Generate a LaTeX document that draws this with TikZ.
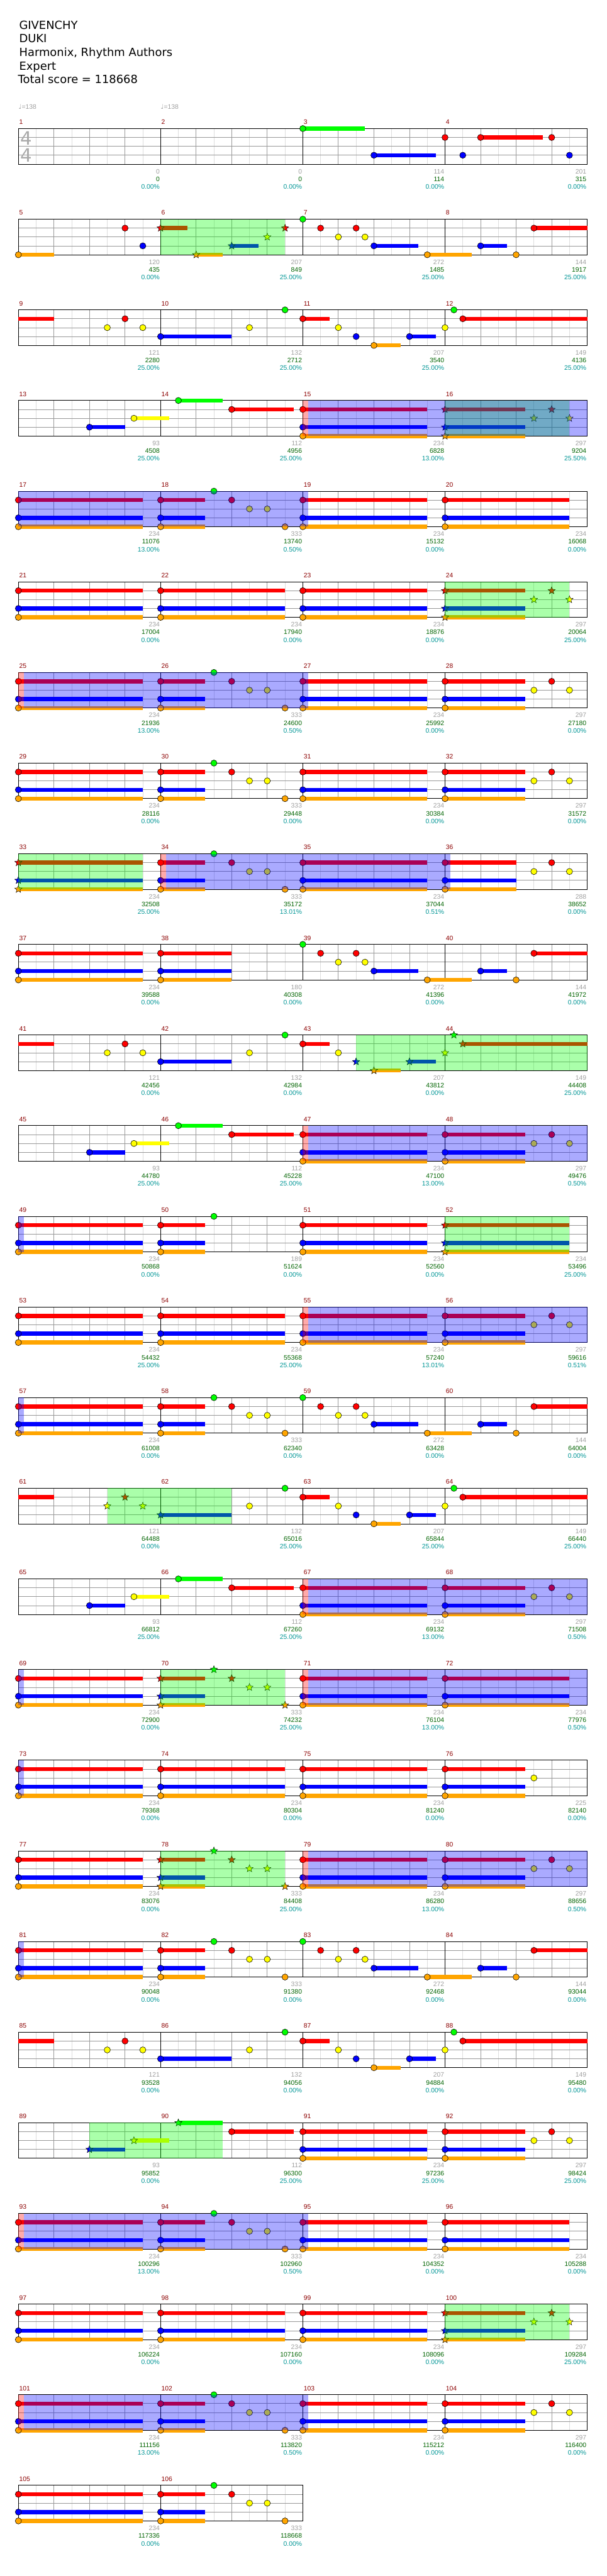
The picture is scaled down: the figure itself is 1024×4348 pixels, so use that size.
\documentclass[tikz,border=0pt]{standalone}
\usepackage{fontspec}
\setmainfont{Liberation Sans}
\newfontfamily\hdrfont{DejaVu Sans}
\usetikzlibrary{shapes.geometric}

\definecolor{lane0}{RGB}{0,255,0}
\definecolor{lane1}{RGB}{255,0,0}
\definecolor{lane2}{RGB}{255,255,0}
\definecolor{lane3}{RGB}{0,0,255}
\definecolor{lane4}{RGB}{255,165,0}
\definecolor{gridmid}{RGB}{153,153,153}
\definecolor{gridlight}{RGB}{221,221,221}
\definecolor{sigray}{RGB}{170,170,170}
\definecolor{numred}{RGB}{140,0,0}
\definecolor{notegray}{RGB}{160,160,160}
\definecolor{scoregreen}{RGB}{0,100,0}
\definecolor{pctcyan}{RGB}{0,150,150}

\tikzset{
  notehead/.style={circle, draw=black, line width=0.6pt, minimum size=10.5pt, inner sep=0pt},
  starhead/.style={star, star points=5, star point ratio=2.3, draw=black, line width=0.5pt, minimum size=13pt, inner sep=0pt},
  mnum/.style={anchor=base west, inner sep=0pt, text=numred, font=\fontsize{11}{11}\selectfont},
  lbl/.style={anchor=base east, inner sep=0pt, font=\fontsize{11}{11}\selectfont},
  hdr/.style={anchor=base west, inner sep=0pt, font=\hdrfont\fontsize{19}{23}\selectfont},
}

% lane/pos(16th)/length(16th)/kind (0 note, 1 star, 2 tail only)
\def\pF{1/0/14/0,3/0/14/0,4/0/14/0}
\def\pFs{1/0/14/1,3/0/14/1,4/0/14/1}
\def\pA{1/0/5/0,3/0/5/0,4/0/5/0,0/6/0/0,1/8/0/0,2/10/0/0,2/12/0/0,4/14/0/0}
\def\pAs{1/0/5/1,3/0/5/1,4/0/5/1,0/6/0/1,1/8/0/1,2/10/0/1,2/12/0/1,4/14/0/1}
\def\pC{1/0/9/0,3/0/9/0,4/0/9/0,2/10/0/0,1/12/0/0,2/14/0/0}
\def\pCs{1/0/9/1,3/0/9/1,4/0/9/1,2/10/0/1,1/12/0/1,2/14/0/1}
\def\pG{0/0/0/0,1/2/0/0,2/4/0/0,1/6/0/0,2/7/0/0,3/8/5/0,4/14/5/0}
\def\pH{3/4/3/0,4/8/0/0,1/10/6/0}
\def\pI{1/0/4/2,2/10/0/0,1/12/0/0,2/14/0/0}
\def\pJ{3/0/8/0,2/10/0/0,0/14/0/0}
\def\pK{1/0/3/0,2/4/0/0,3/6/0/0,4/8/3/0,3/12/3/0}
\def\pL{2/0/0/0,0/1/0/0,1/2/14/0}
\def\pM{3/8/4/0,2/13/4/0}
\def\pN{0/2/5/0,1/8/7/0}

\newcommand{\drawnotes}[2]{%
  \pgfmathtruncatemacro\nrow{int((#1-1)/4)}%
  \pgfmathtruncatemacro\ncol{mod(#1-1,4)}%
  \pgfmathsetmacro\mx{31+240*\ncol}%
  \pgfmathsetmacro\ty{217+153*\nrow}%
  \edef\nlist{#2}%
  \foreach \nl/\np/\ns/\nk in \nlist {%
    \pgfmathsetmacro\nx{\mx+15*\np}%
    \pgfmathsetmacro\ny{\ty+15*\nl}%
    \ifnum\ns>0 \fill[lane\nl] (\nx,\ny-3.4) rectangle ++(15*\ns,6.8);\fi
    \ifcase\nk\relax
      \node[notehead, fill=lane\nl] (h#1-\nl-\np) at (\nx,\ny) {};
    \or
      \node[starhead, fill=lane\nl] (h#1-\nl-\np) at (\nx,\ny) {};
    \fi
  }}
% row, x from, x to
\newcommand{\spzone}[3]{\fill[lane0, fill opacity=0.333] (#2,64+153*#1) rectangle (#3,124+153*#1);}
\newcommand{\odzone}[3]{\fill[lane3, fill opacity=0.333] (#2,64+153*#1) rectangle (#3,124+153*#1);}
\newcommand{\odpink}[3]{\fill[lane1, fill opacity=0.333] (#2,64+153*#1) rectangle (#3,124+153*#1);}

\begin{document}
\begin{tikzpicture}[x=1pt, y=-1pt, line width=0.9pt]
  \useasboundingbox (0,0) rectangle (1024,4348);
  \fill[white] (0,0) rectangle (1024,4348);

  \node[hdr] (title) at (32,49) {GIVENCHY};
  \node[hdr] (artist) at (32,72) {DUKI};
  \node[hdr] (charter) at (32,95) {Harmonix, Rhythm Authors};
  \node[hdr] (diff) at (32,118) {Expert};
  \node[hdr] (total) at (30,141) {Total score = 118668};
  \node[anchor=base west, inner sep=0pt, text=notegray, font=\fontsize{11}{11}\selectfont] (tempo1) at (31,184) {{\hdrfont ♩}=138};
  \node[anchor=base west, inner sep=0pt, text=notegray, font=\fontsize{11}{11}\selectfont] (tempo2) at (271,184) {{\hdrfont ♩}=138};

  % grid and scores
  \foreach \m/\gsc/\tsc/\pcv in {1/0/0/0.00,2/0/0/0.00,3/114/114/0.00,4/201/315/0.00,
    5/120/435/0.00,6/207/849/25.00,7/272/1485/25.00,8/144/1917/25.00,
    9/121/2280/25.00,10/132/2712/25.00,11/207/3540/25.00,12/149/4136/25.00,
    13/93/4508/25.00,14/112/4956/25.00,15/234/6828/13.00,16/297/9204/25.50,
    17/234/11076/13.00,18/333/13740/0.50,19/234/15132/0.00,20/234/16068/0.00,
    21/234/17004/0.00,22/234/17940/0.00,23/234/18876/0.00,24/297/20064/25.00,
    25/234/21936/13.00,26/333/24600/0.50,27/234/25992/0.00,28/297/27180/0.00,
    29/234/28116/0.00,30/333/29448/0.00,31/234/30384/0.00,32/297/31572/0.00,
    33/234/32508/25.00,34/333/35172/13.01,35/234/37044/0.51,36/288/38652/0.00,
    37/234/39588/0.00,38/180/40308/0.00,39/272/41396/0.00,40/144/41972/0.00,
    41/121/42456/0.00,42/132/42984/0.00,43/207/43812/0.00,44/149/44408/25.00,
    45/93/44780/25.00,46/112/45228/25.00,47/234/47100/13.00,48/297/49476/0.50,
    49/234/50868/0.00,50/189/51624/0.00,51/234/52560/0.00,52/234/53496/25.00,
    53/234/54432/25.00,54/234/55368/25.00,55/234/57240/13.01,56/297/59616/0.51,
    57/234/61008/0.00,58/333/62340/0.00,59/272/63428/0.00,60/144/64004/0.00,
    61/121/64488/0.00,62/132/65016/25.00,63/207/65844/25.00,64/149/66440/25.00,
    65/93/66812/25.00,66/112/67260/25.00,67/234/69132/13.00,68/297/71508/0.50,
    69/234/72900/0.00,70/333/74232/25.00,71/234/76104/13.00,72/234/77976/0.50,
    73/234/79368/0.00,74/234/80304/0.00,75/234/81240/0.00,76/225/82140/0.00,
    77/234/83076/0.00,78/333/84408/25.00,79/234/86280/13.00,80/297/88656/0.50,
    81/234/90048/0.00,82/333/91380/0.00,83/272/92468/0.00,84/144/93044/0.00,
    85/121/93528/0.00,86/132/94056/0.00,87/207/94884/0.00,88/149/95480/0.00,
    89/93/95852/0.00,90/112/96300/25.00,91/234/97236/25.00,92/297/98424/25.00,
    93/234/100296/13.00,94/333/102960/0.50,95/234/104352/0.00,96/234/105288/0.00,
    97/234/106224/0.00,98/234/107160/0.00,99/234/108096/0.00,100/297/109284/25.00,
    101/234/111156/13.00,102/333/113820/0.50,103/234/115212/0.00,104/297/116400/0.00,
    105/234/117336/0.00,106/333/118668/0.00} {
    \pgfmathtruncatemacro\nrow{int((\m-1)/4)}
    \pgfmathtruncatemacro\ncol{mod(\m-1,4)}
    \pgfmathsetmacro\mx{31+240*\ncol}
    \pgfmathsetmacro\ty{217+153*\nrow}
    \foreach \dx in {30,90,150,210} \draw[gridlight] (\mx+\dx,\ty) -- ++(0,60);
    \foreach \dy in {15,30,45} \draw[gridmid] (\mx,\ty+\dy) -- ++(240,0);
    \foreach \dx in {60,120,180} \draw[gridmid] (\mx+\dx,\ty) -- ++(0,60);
    \draw[black] (\mx,\ty) -- ++(0,60);
    \node[mnum] (num\m) at (\mx+1,\ty-7) {\m};
    \node[lbl, text=notegray] (g\m) at (\mx+239,\ty+76) {\gsc};
    \node[lbl, text=scoregreen] (s\m) at (\mx+239,\ty+89) {\tsc};
    \node[lbl, text=pctcyan] (p\m) at (\mx+239,\ty+102) {\pcv\%};
  }
  \foreach \r in {0,...,25} \draw[black] (31,217+153*\r) rectangle ++(960,60);
  \draw[black] (31,4195) rectangle ++(480,60);
  \node[text=sigray, inner sep=0pt, font=\hdrfont\fontsize{31}{31}\selectfont] (ts1) at (44,233.5) {4};
  \node[text=sigray, inner sep=0pt, font=\hdrfont\fontsize{31}{31}\selectfont] (ts2) at (44,262.5) {4};

  % notes
  \foreach \m in {15,17,19,20,21,22,23,25,27,29,31,35,37,47,49,51,53,54,55,57,67,69,71,72,73,74,75,77,79,81,91,93,95,96,97,98,99,101,103,105} {\drawnotes{\m}{\pF}}
  \foreach \m in {18,26,30,34,58,82,94,102,106} {\drawnotes{\m}{\pA}}
  \foreach \m in {70,78} {\drawnotes{\m}{\pAs}}
  \foreach \m in {28,32,48,56,68,80,92,104} {\drawnotes{\m}{\pC}}
  \foreach \m in {16,24,100} {\drawnotes{\m}{\pCs}}
  \foreach \m in {33,52} {\drawnotes{\m}{\pFs}}
  \foreach \m in {7,39,59,83} {\drawnotes{\m}{\pG}}
  \foreach \m in {8,40,60,84} {\drawnotes{\m}{\pH}}
  \foreach \m in {9,41,85} {\drawnotes{\m}{\pI}}
  \foreach \m in {10,42,86} {\drawnotes{\m}{\pJ}}
  \foreach \m in {11,63,87} {\drawnotes{\m}{\pK}}
  \foreach \m in {12,64,88} {\drawnotes{\m}{\pL}}
  \foreach \m in {13,45,65} {\drawnotes{\m}{\pM}}
  \foreach \m in {14,46,66} {\drawnotes{\m}{\pN}}
  \drawnotes{3}{0/0/7/0,3/8/7/0}
  \drawnotes{4}{1/0/0/0,3/2/0/0,1/4/7/0,1/12/0/0,3/14/0/0}
  \drawnotes{5}{4/0/4/0,1/12/0/0,3/14/0/0}
  \drawnotes{6}{1/0/3/1,4/4/3/1,3/8/3/1,2/12/0/1,1/14/0/1}
  \drawnotes{36}{1/0/8/0,3/0/8/0,4/0/8/0,2/10/0/0,1/12/0/0,2/14/0/0}
  \drawnotes{38}{1/0/8/0,3/0/8/0,4/0/8/0}
  \drawnotes{43}{1/0/3/0,2/4/0/0,3/6/0/1,4/8/3/1,3/12/3/1}
  \drawnotes{44}{2/0/0/1,0/1/0/1,1/2/14/1}
  \drawnotes{50}{1/0/5/0,3/0/5/0,4/0/5/0,0/6/0/0}
  \drawnotes{61}{1/0/4/2,2/10/0/1,1/12/0/1,2/14/0/1}
  \drawnotes{62}{3/0/8/1,2/10/0/0,0/14/0/0}
  \drawnotes{76}{1/0/9/0,3/0/9/0,4/0/9/0,2/10/0/0}
  \drawnotes{89}{3/8/4/1,2/13/4/1}
  \drawnotes{90}{0/2/5/1,1/8/7/0}

  % star power phrases
  \spzone{2}{271}{481} \spzone{4}{751}{961} \spzone{6}{751}{961}
  \spzone{9}{31}{241} \spzone{11}{601}{991} \spzone{13}{751}{961}
  \spzone{16}{181}{391} \spzone{18}{271}{481} \spzone{20}{271}{481}
  \spzone{23}{151}{376} \spzone{25}{751}{961}
  % overdrive
  \odpink{4}{511}{520} \odzone{4}{520}{991} \odzone{5}{31}{520}
  \odpink{7}{31}{40} \odzone{7}{40}{520}
  \odpink{9}{271}{280} \odzone{9}{280}{760}
  \odpink{12}{511}{520} \odzone{12}{520}{991} \odzone{13}{31}{40}
  \odpink{14}{511}{520} \odzone{14}{520}{991} \odzone{15}{31}{40}
  \odpink{17}{511}{520} \odzone{17}{520}{991} \odzone{18}{31}{40}
  \odpink{18}{511}{520} \odzone{18}{520}{991} \odzone{19}{31}{40}
  \odpink{20}{511}{520} \odzone{20}{520}{991} \odzone{21}{31}{40}
  \odpink{24}{31}{40} \odzone{24}{40}{520}
  \odpink{26}{31}{40} \odzone{26}{40}{520}
\end{tikzpicture}
\end{document}
